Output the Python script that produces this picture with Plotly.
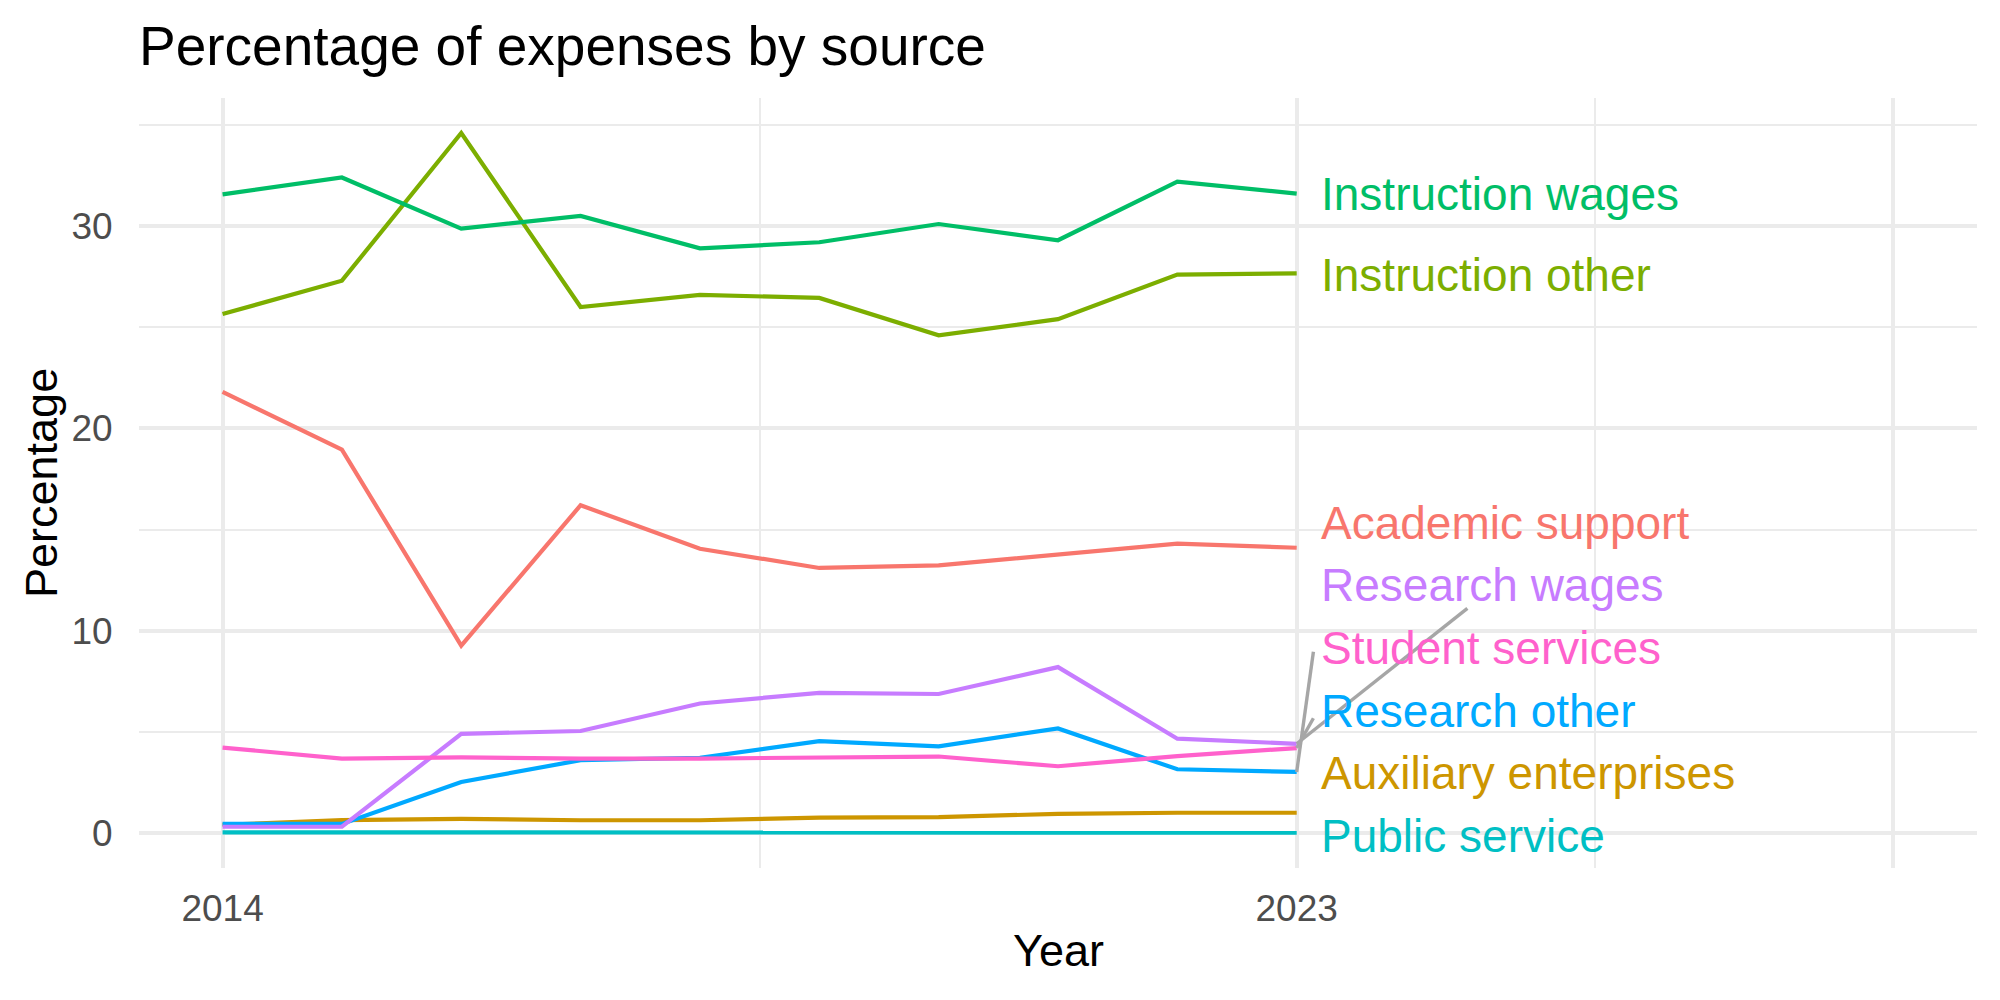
import plotly.graph_objects as go

# ---- data ----
years = [2014, 2015, 2016, 2017, 2018, 2019, 2020, 2021, 2022, 2023]

series_names = [
    "Academic support", "Auxiliary enterprises", "Instruction other",
    "Instruction wages", "Public service", "Research other",
    "Research wages", "Student services",
]

academic_support = [21.8, 18.95, 9.26, 16.2, 14.05, 13.1, 13.23, 13.74, 14.3, 14.1]
auxiliary_enterprises = [0.4, 0.64, 0.7, 0.63, 0.63, 0.76, 0.78, 0.95, 1.0, 1.0]
instruction_other = [25.65, 27.3, 34.6, 26.0, 26.6, 26.45, 24.6, 25.4, 27.6, 27.66]
instruction_wages = [31.57, 32.4, 29.87, 30.5, 28.9, 29.2, 30.1, 29.3, 32.2, 31.6]
public_service = [0.03, 0.03, 0.03, 0.02, 0.02, 0.02, 0.02, 0.03, 0.02, 0.02]
research_other = [0.45, 0.45, 2.52, 3.6, 3.72, 4.54, 4.28, 5.17, 3.15, 3.02]
research_wages = [0.31, 0.31, 4.9, 5.04, 6.4, 6.93, 6.87, 8.2, 4.66, 4.41]
student_services = [4.22, 3.68, 3.74, 3.68, 3.68, 3.72, 3.78, 3.3, 3.8, 4.2]

series_values = [
    academic_support, auxiliary_enterprises, instruction_other,
    instruction_wages, public_service, research_other,
    research_wages, student_services,
]

colors = ["#F8766D", "#CD9600", "#7CAE00", "#00BE67",
          "#00BFC4", "#00A9FF", "#C77CFF", "#FF61CC"]

# repelled label positions (y) for each series, same order as series_names
label_y = [15.3, 2.96, 27.6, 31.57, -0.15, 6.03, 12.25, 9.16]
label_x = 2023.19

# leader segments: series -> (end x, end y)
segment_ends = {
    "Research wages": (2024.43, 11.1),
    "Student services": (2023.14, 5.67),
    "Research other": (2023.14, 8.96),
}

x_major = [2014, 2023, 2028]
x_major_text = ["2014", "2023", ""]
x_minor = [2018.5, 2025.5]
y_major = [0, 10, 20, 30]
y_minor = [5, 15, 25, 35]

FONT = "Liberation Sans, Arial, Helvetica, sans-serif"
GRID = "#EBEBEB"

fig = go.Figure()

for name, vals, col in zip(series_names, series_values, colors):
    fig.add_trace(go.Scatter(
        x=years, y=vals, mode="lines", name=name,
        line=dict(color=col, width=4.2), showlegend=False,
        hoverinfo="x+y+name",
    ))

# leader segments
for name, (ex, ey) in segment_ends.items():
    idx = series_names.index(name)
    fig.add_trace(go.Scatter(
        x=[years[-1], ex], y=[series_values[idx][-1], ey], mode="lines",
        line=dict(color="#A6A6A6", width=3.4), showlegend=False,
        hoverinfo="skip",
    ))

# end labels
for name, ly, col in zip(series_names, label_y, colors):
    fig.add_annotation(
        x=label_x, y=ly, text=name, showarrow=False,
        xanchor="left", yanchor="middle",
        font=dict(family=FONT, size=46, color=col),
    )

# axis titles
fig.add_annotation(
    xref="paper", yref="paper", x=0.5, y=0, yshift=-82,
    text="Year", showarrow=False, xanchor="center", yanchor="middle",
    font=dict(family=FONT, size=45, color="black"),
)
fig.add_annotation(
    xref="paper", yref="paper", x=0, y=0.5, xshift=-98,
    text="Percentage", showarrow=False, textangle=-90,
    xanchor="center", yanchor="middle",
    font=dict(family=FONT, size=45, color="black"),
)

fig.update_layout(
    width=2000, height=1000,
    paper_bgcolor="white", plot_bgcolor="white",
    margin=dict(l=139, r=23, t=98, b=132),
    title=dict(
        text="Percentage of expenses by source",
        x=0, xref="paper", xanchor="left",
        y=0.954, yref="container", yanchor="middle",
        font=dict(family=FONT, size=55, color="black"),
    ),
    font=dict(family=FONT),
    xaxis=dict(
        range=[2013.3, 2028.7], tickmode="array",
        tickvals=x_major, ticktext=x_major_text,
        showgrid=True, gridcolor=GRID, gridwidth=3.5,
        zeroline=False, showline=False,
        ticks="outside", ticklen=8, tickcolor="rgba(0,0,0,0)",
        tickfont=dict(family=FONT, size=37, color="#4D4D4D"),
        minor=dict(tickvals=x_minor, showgrid=True, gridcolor=GRID,
                   gridwidth=2, ticks=""),
    ),
    yaxis=dict(
        range=[-1.73, 36.33], tickmode="array",
        tickvals=y_major, ticktext=[str(v) for v in y_major],
        showgrid=True, gridcolor=GRID, gridwidth=3.5,
        zeroline=False, showline=False,
        ticks="outside", ticklen=18, tickcolor="rgba(0,0,0,0)",
        tickfont=dict(family=FONT, size=37, color="#4D4D4D"),
        minor=dict(tickvals=y_minor, showgrid=True, gridcolor=GRID,
                   gridwidth=2, ticks=""),
    ),
)

fig.write_html("out.html")
